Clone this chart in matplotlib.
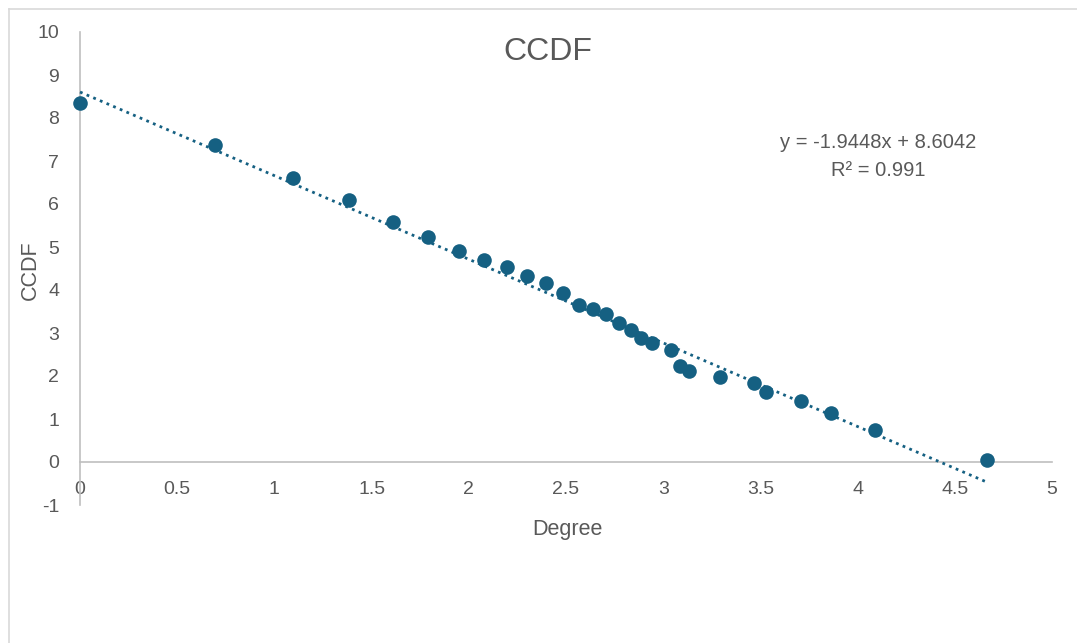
import numpy as np
import matplotlib
matplotlib.use("Agg")
import matplotlib.pyplot as plt
from matplotlib.lines import Line2D

plt.rcParams['font.family'] = ['Liberation Sans', 'DejaVu Sans']
plt.rcParams['axes.unicode_minus'] = False

# Data
degree = [0.000, 0.694, 1.096, 1.384, 1.610, 1.790, 1.950, 2.078, 2.196, 2.299,
          2.397, 2.485, 2.567, 2.639, 2.706, 2.773, 2.834, 2.886, 2.942, 3.040,
          3.086, 3.133, 3.292, 3.467, 3.529, 3.709, 3.863, 4.090, 4.666]
ccdf = [8.35, 7.37, 6.60, 6.09, 5.58, 5.23, 4.91, 4.70, 4.53, 4.33,
        4.16, 3.93, 3.65, 3.56, 3.44, 3.23, 3.07, 2.88, 2.77, 2.60,
        2.23, 2.12, 1.98, 1.84, 1.63, 1.42, 1.14, 0.74, 0.05]
trend_slope = -1.9448
trend_intercept = 8.6042
r_squared = 0.991
x_ticks = [0, 0.5, 1, 1.5, 2, 2.5, 3, 3.5, 4, 4.5, 5]
x_tick_labels = ['0', '0.5', '1', '1.5', '2', '2.5', '3', '3.5', '4', '4.5', '5']
y_ticks = list(range(-1, 11))

W, H = 1077, 643
fig = plt.figure(figsize=(W / 100, H / 100), dpi=100)
fig.patch.set_facecolor('white')

marker_color = '#156082'
text_color = '#595959'
axis_color = '#BFBFBF'

# chart border (top and left visible)
bx = 8.5 / W
by = 1 - 8.5 / H
fig.add_artist(Line2D([bx, bx], [0, by], transform=fig.transFigure, color='#D9D9D9', lw=1.2))
fig.add_artist(Line2D([bx, 1], [by, by], transform=fig.transFigure, color='#D9D9D9', lw=1.2))

ax = fig.add_axes([80 / W, (H - 505) / H, (1052 - 80) / W, (505 - 32) / H])
ax.set_xlim(0, 5)
ax.set_ylim(-1, 10)

# trendline
xt = np.array([min(degree), max(degree)])
yt = trend_slope * xt + trend_intercept
ax.plot(xt, yt, color=marker_color, lw=2.0, linestyle=(0, (1, 1.6)),
        dash_capstyle='butt', zorder=3, clip_on=False)

ax.plot(degree, ccdf, 'o', color=marker_color, markersize=10.5, markeredgewidth=0,
        zorder=4, clip_on=False)

for s in ['top', 'right']:
    ax.spines[s].set_visible(False)
ax.spines['bottom'].set_position(('data', 0))
ax.spines['bottom'].set_color(axis_color)
ax.spines['left'].set_color(axis_color)
ax.spines['bottom'].set_linewidth(1.2)
ax.spines['left'].set_linewidth(1.2)

ax.set_xticks(x_ticks)
ax.set_xticklabels(x_tick_labels)
ax.set_yticks(y_ticks)
ax.tick_params(axis='both', length=0, labelsize=14, labelcolor=text_color)
ax.tick_params(axis='x', pad=14)
ax.tick_params(axis='y', pad=15)

fig.text(548 / W, 1 - 52 / H, 'CCDF', ha='center', va='center', fontsize=23, color=text_color)
fig.text(567 / W, 1 - 530 / H, 'Degree', ha='center', va='center', fontsize=15.5, color=text_color)
fig.text(30 / W, 1 - 270 / H, 'CCDF', ha='center', va='center', fontsize=15.5,
         color=text_color, rotation=90)

fig.text(878 / W, 1 - 143 / H, f'y = {trend_slope}x + {trend_intercept}', ha='center',
         va='center', fontsize=14.5, color=text_color)
fig.text(878 / W, 1 - 170 / H, f'R² = {r_squared}', ha='center', va='center',
         fontsize=14.5, color=text_color)

fig.savefig('out.png', dpi=100)
